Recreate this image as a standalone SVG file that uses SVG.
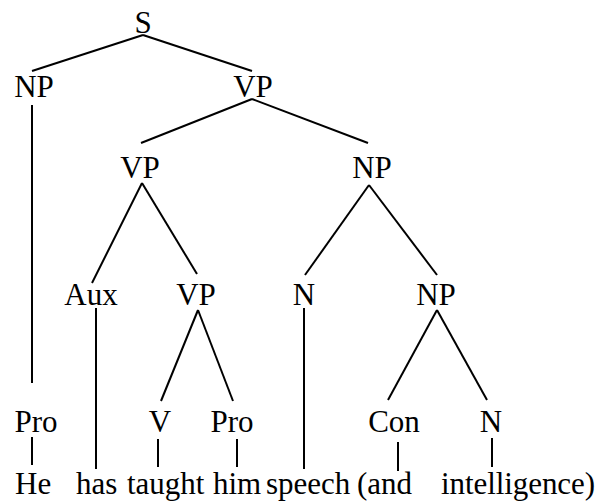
<svg xmlns="http://www.w3.org/2000/svg" width="601" height="503" viewBox="0 0 601 503">
<style>
text{font-family:"Liberation Serif","Times New Roman",serif;font-size:31px;fill:#000}
.n{text-anchor:middle}
line{stroke:#000;stroke-width:2;stroke-linecap:butt}
</style>
<rect width="601" height="503" fill="#fff"/>
<g id="connectors">
<line x1="143" y1="35" x2="32" y2="71"/>
<line x1="143" y1="35" x2="252" y2="71"/>
<line x1="32" y1="105" x2="32" y2="383"/>
<line x1="252" y1="99" x2="141" y2="143"/>
<line x1="252" y1="99" x2="368" y2="143"/>
<line x1="142" y1="183" x2="92" y2="283"/>
<line x1="142" y1="183" x2="197" y2="274"/>
<line x1="369" y1="185" x2="305" y2="275"/>
<line x1="369" y1="185" x2="437" y2="275"/>
<line x1="96" y1="308" x2="96" y2="469"/>
<line x1="198" y1="310" x2="161" y2="401"/>
<line x1="198" y1="310" x2="233" y2="401"/>
<line x1="304" y1="308" x2="304" y2="469"/>
<line x1="437" y1="310" x2="388" y2="400"/>
<line x1="437" y1="310" x2="487" y2="400"/>
<line x1="32" y1="437" x2="32" y2="465"/>
<line x1="158" y1="439" x2="158" y2="467"/>
<line x1="237" y1="439" x2="237" y2="467"/>
<line x1="398" y1="442" x2="398" y2="471"/>
<line x1="492" y1="438" x2="492" y2="467"/>
</g>
<g id="S"><text class="n" x="143" y="33">S</text></g>
<g id="NP1"><text class="n" x="34" y="97">NP</text></g>
<g id="VP1"><text class="n" x="253" y="97">VP</text></g>
<g id="VP2"><text class="n" x="140" y="178">VP</text></g>
<g id="NP2"><text class="n" x="372" y="178">NP</text></g>
<g id="Aux"><text class="n" x="91" y="305">Aux</text></g>
<g id="VP3"><text class="n" x="196" y="305">VP</text></g>
<g id="N1"><text class="n" x="304" y="305">N</text></g>
<g id="NP3"><text class="n" x="436" y="305">NP</text></g>
<g id="Pro1"><text class="n" x="36" y="432">Pro</text></g>
<g id="V"><text class="n" x="160" y="432">V</text></g>
<g id="Pro2"><text class="n" x="232" y="432">Pro</text></g>
<g id="Con"><text class="n" x="394" y="432">Con</text></g>
<g id="N2"><text class="n" x="491" y="432">N</text></g>
<g id="words">
<text x="15" y="494">He</text>
<text x="76" y="494">has</text>
<text x="127" y="494">taught</text>
<text x="213" y="494">him</text>
<text x="266" y="494">speech</text>
<text x="357" y="494">(and</text>
<text x="441" y="494" textLength="154">intelligence)</text>
</g>
</svg>
